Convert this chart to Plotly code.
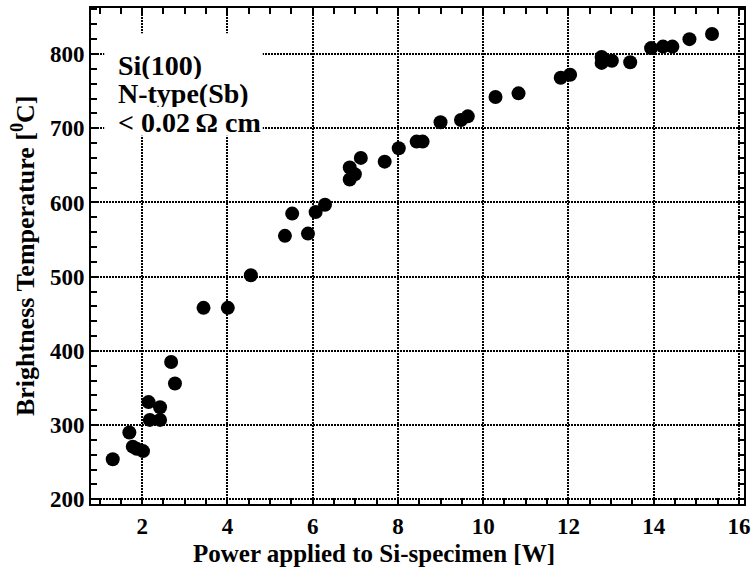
import plotly.graph_objects as go

# Data
power_w = [1.31, 1.70, 1.78, 1.87, 2.02, 2.15, 2.18, 2.42, 2.42, 2.68, 2.77,
           3.44, 4.01, 4.55, 5.35, 5.52, 5.89, 6.07, 6.29, 6.87, 6.87, 6.99,
           7.13, 7.69, 8.02, 8.44, 8.58, 9.00, 9.48, 9.64, 10.29, 10.83, 11.82,
           12.04, 12.78, 12.78, 13.02, 13.45, 13.94, 14.22, 14.44, 14.84, 15.37]
temp_c = [254, 290, 271, 268, 265, 331, 307, 324, 307, 385, 356,
          458, 458, 502, 555, 585, 558, 587, 597, 631, 647, 638,
          660, 655, 673, 682, 682, 708, 711, 716, 742, 747, 768,
          772, 796, 788, 791, 789, 808, 810, 810, 820, 827]

x_ticks = [2, 4, 6, 8, 10, 12, 14, 16]
y_ticks = [200, 300, 400, 500, 600, 700, 800]
label_lines = ["Si(100)", "N-type(Sb)", "< 0.02\u2009\u03a9 cm"]
x_title = "Power applied to Si-specimen [W]"
y_title = "Brightness Temperature [<sup>0</sup>C]"

FONT = "Liberation Serif, Times New Roman, serif"

fig = go.Figure()
fig.add_trace(go.Scatter(
    x=power_w, y=temp_c, mode="markers",
    marker=dict(color="black", size=14, line=dict(width=0)),
    showlegend=False,
))

axis_common = dict(
    showline=True, linecolor="black", linewidth=2, mirror="allticks",
    ticks="inside", ticklen=7, tickwidth=2, tickcolor="black",
    showgrid=True, gridcolor="black", gridwidth=1.5, griddash="1.5px,1.5px",
    zeroline=False, automargin=False,
    tickfont=dict(family=FONT, size=23, color="black", weight="bold"),
)

fig.update_xaxes(
    range=[0.8, 16.12], tickvals=x_ticks,
    minor=dict(dtick=0.5, tick0=0, ticks="inside", ticklen=6, tickwidth=2,
               tickcolor="black", showgrid=False),
    **axis_common,
)
fig.update_yaxes(
    range=[193.7, 862], tickvals=y_ticks,
    minor=dict(dtick=20, tick0=0, ticks="inside", ticklen=6, tickwidth=2,
               tickcolor="black", showgrid=False),
    **axis_common,
)

# white box behind the label text
fig.add_shape(type="rect", xref="x", yref="y", x0=1.11, x1=4.83, y0=690, y1=828,
              fillcolor="white", line=dict(width=0), layer="above")

line_y = [0.886, 0.829, 0.771]
for txt, yy in zip(label_lines, line_y):
    fig.add_annotation(text=txt, xref="paper", yref="paper", x=0.038, y=yy,
                       xanchor="left", yanchor="middle", showarrow=False, height=28,
                       font=dict(family=FONT, size=28, color="black", weight="bold"))

fig.add_annotation(text=x_title, xref="paper", yref="paper", x=0.433, y=-0.1,
                   xanchor="center", yanchor="middle", showarrow=False,
                   font=dict(family=FONT, size=25, color="black", weight="bold"))
fig.add_annotation(text=y_title, xref="paper", yref="paper", x=-0.104, y=0.5,
                   xanchor="center", yanchor="middle", showarrow=False, textangle=-90,
                   font=dict(family=FONT, size=26, color="black", weight="bold"))

fig.update_layout(
    template="none",
    width=752, height=574,
    margin=dict(l=91, r=8, t=8, b=70, autoexpand=False),
    paper_bgcolor="white", plot_bgcolor="white",
    font=dict(family=FONT, color="black"),
)

fig.write_html("out.html",
               config={"displayModeBar": False},
               post_script="document.body.style.margin='0';document.body.style.overflow='hidden';")
